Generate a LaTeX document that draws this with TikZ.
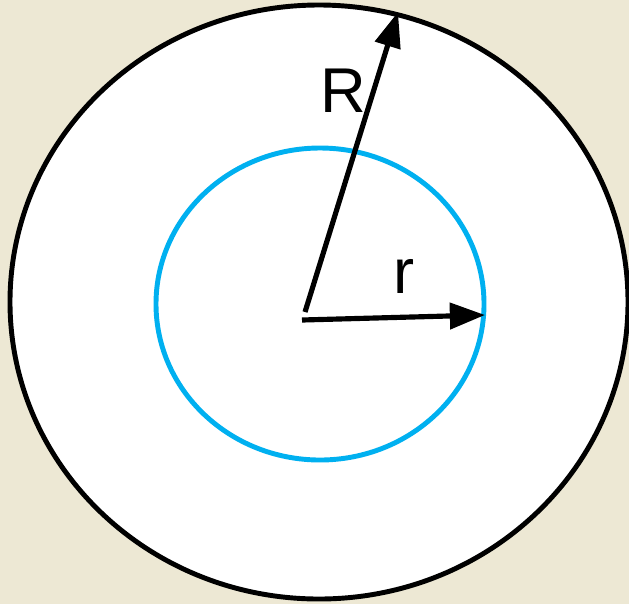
\documentclass[tikz,border=0pt]{standalone}
\usepackage{fontspec}
\setmainfont{Liberation Sans}
\usetikzlibrary{arrows.meta}
\definecolor{paper}{HTML}{EDE8D4}
\definecolor{sky}{HTML}{00B0F0}

\begin{document}
\begin{tikzpicture}[
  x=0.03cm, y=-0.03cm,
  ring/.style={line width=4.2pt},
  radius arrow/.style={line width=4.4pt, -{Triangle[length=30pt, width=22pt]}},
  letter/.style={font=\fontsize{54}{54}\selectfont, inner sep=0pt}
]
\fill[paper] (0,0) rectangle (629,604);
\useasboundingbox (0,0) rectangle (629,604);
\fill[white] (319,302) ellipse [x radius=309, y radius=297];
\draw[ring] (319,302) ellipse [x radius=309, y radius=297];
\draw[ring, sky] (320,304) ellipse [x radius=164, y radius=156];
% centre and the two tips
\coordinate (cR) at (305,312);
\coordinate (cr) at (302,320);
\coordinate (tipR) at (398,12);
\coordinate (tipr) at (485,315);
\draw[radius arrow] (cR) -- (tipR);
\draw[radius arrow] (cr) -- (tipr);
\node[letter] (labR) at (343,91) {R};
\node[letter] (labr) at (404,276) {r};
\end{tikzpicture}
\end{document}
